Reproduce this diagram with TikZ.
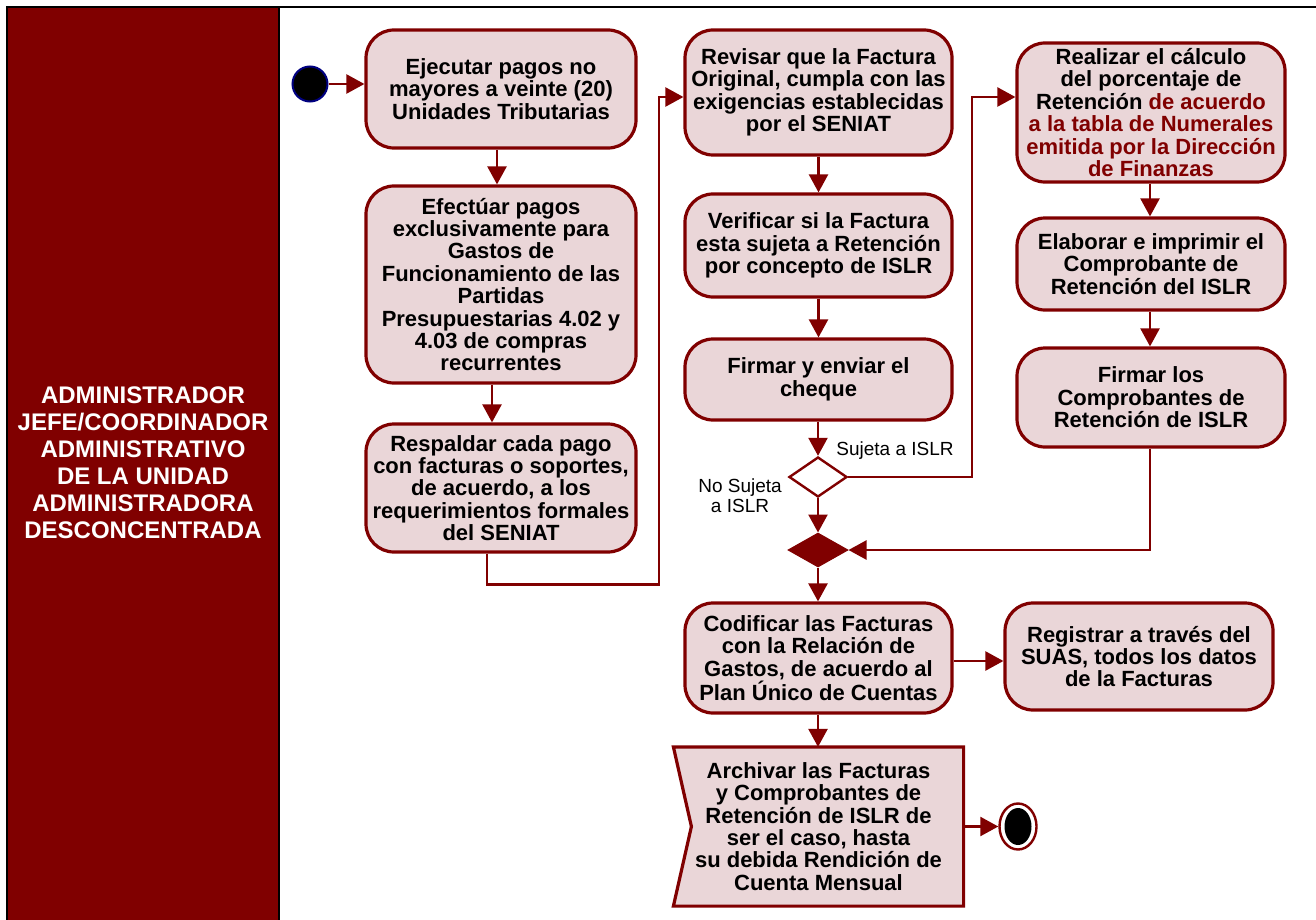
\documentclass[tikz,border=0pt]{standalone}
\usepackage{fontspec}
\setmainfont{Liberation Sans}
\usetikzlibrary{arrows.meta,shapes.geometric,calc}
\pgfdeclarelayer{bg}
\pgfsetlayers{bg,main}
\definecolor{dred}{RGB}{128,0,0}
\definecolor{bfill}{RGB}{234,214,216}
\definecolor{navyb}{RGB}{0,0,128}
\tikzset{
  act/.style={draw=dred, line width=3.2pt, fill=bfill, rounded corners=28pt,
    align=center, inner sep=0pt, font=\fontsize{22}{22.4}\selectfont\bfseries},
  conn/.style={draw=dred, line width=2.4pt, -{Triangle[length=18pt,width=19pt]}},
  lbl/.style={font=\fontsize{19}{20}\selectfont, align=center, inner sep=0pt},
  lanetext/.style={font=\fontsize{24}{27}\selectfont\bfseries, text=white, align=center},
}
\begin{document}
\begin{tikzpicture}[x=1pt,y=-1pt]
\useasboundingbox (0,0) rectangle (1316,920);
% frame
\draw[black, line width=2pt] (7,7) -- (1316,7);
\fill[dred] (7,7) rectangle (279,920);
\draw[black, line width=2pt] (7,920) -- (7,7) -- (279,7) -- (279,920);
\node[lanetext] (lane) at (143,463)
  {ADMINISTRADOR\\JEFE/COORDINADOR\\ADMINISTRATIVO\\DE LA UNIDAD\\ADMINISTRADORA\\DESCONCENTRADA};

% start
\node[circle, fill=black, draw=navyb, line width=2pt, minimum size=35pt, inner sep=0pt] (start) at (310,84) {};

% left column
\node[act, minimum width=270pt, minimum height=118pt] (b1) at (501,89)
  {Ejecutar pagos no\\mayores a veinte (20)\\Unidades Tributarias};
\node[act, minimum width=270pt, minimum height=197pt] (b2) at (501,284.5)
  {Efectúar pagos\\exclusivamente para\\Gastos de\\Funcionamiento de las\\Partidas\\Presupuestarias 4.02 y\\4.03 de compras\\recurrentes};
\node[act, minimum width=270pt, minimum height=128pt] (b3) at (501,488)
  {Respaldar cada pago\\con facturas o soportes,\\de acuerdo, a los\\requerimientos formales\\del SENIAT};

% middle column
\node[act, minimum width=267pt, minimum height=125pt] (b4) at (818.5,92.5)
  {Revisar que la Factura\\Original, cumpla con las\\exigencias establecidas\\por el SENIAT};
\node[act, minimum width=267pt, minimum height=103pt] (b5) at (818.5,245.5)
  {Verificar si la Factura\\esta sujeta a Retención\\por concepto de ISLR};
\node[act, minimum width=267pt, minimum height=81pt] (b6) at (818.5,379.5)
  {Firmar y enviar el\\cheque};
\node[diamond, draw=dred, fill=white, line width=2.4pt, minimum width=58pt, minimum height=40pt, inner sep=0pt] (dec) at (818,477) {};
\node[diamond, draw=dred, fill=dred, line width=1pt, minimum width=60pt, minimum height=34pt, inner sep=0pt] (mrg) at (818,550) {};
\node[act, minimum width=267pt, minimum height=110pt] (b7) at (818.5,658)
  {Codificar las Facturas\\con la Relación de\\Gastos, de acuerdo al\\Plan Único de Cuentas};
\node[act, minimum width=268pt, minimum height=107pt] (b8) at (1139,656.5)
  {Registrar a través del\\SUAS, todos los datos\\de la Facturas};
\node[act, draw=none, fill=none, minimum width=287pt, minimum height=156pt] (b9) at (818.5,826.5)
  {Archivar las Facturas\\y Comprobantes de\\Retención de ISLR de\\ser el caso, hasta\\su debida Rendición de\\Cuenta Mensual};
\begin{pgfonlayer}{bg}
\draw[draw=dred, line width=3.2pt, fill=bfill, line join=miter]
  (b9.north west) -- (b9.north east) -- (b9.south east) -- (b9.south west)
  -- ([xshift=18pt]b9.west) -- cycle;
\end{pgfonlayer}

% end
\node[ellipse, draw=dred, fill=white, line width=2.4pt, minimum width=37pt, minimum height=46pt, inner sep=0pt] (endo) at (1018,826.5) {};
\node[ellipse, fill=black, minimum width=27pt, minimum height=37pt, inner sep=0pt] (endi) at (1018,826.5) {};

% right column
\node[act, minimum width=268pt, minimum height=139pt] (r1) at (1151,112.5)
  {Realizar el cálculo\\del porcentaje de\\Retención {\color{dred}de acuerdo}\\{\color{dred}a la tabla de Numerales}\\{\color{dred}emitida por la Dirección}\\{\color{dred}de Finanzas}};
\node[act, minimum width=268pt, minimum height=92pt] (r2) at (1151,264)
  {Elaborar e imprimir el\\Comprobante de\\Retención del ISLR};
\node[act, minimum width=268pt, minimum height=99pt] (r3) at (1151,397.5)
  {Firmar los\\Comprobantes de\\Retención de ISLR};

% connectors
\draw[conn] (start) -- (b1.west |- start);
\draw[conn] ([xshift=-4pt]b1.south) -- ([xshift=-4pt]b1.south |- b2.north);
\draw[conn] ([xshift=-9pt]b2.south) -- ([xshift=-9pt]b2.south |- b3.north);
\coordinate (c1) at ([xshift=-14pt]b3.south);
\draw[conn] (c1) -- ++(0,31) -| (659,97) -- (b4.west |- 0,97);
\draw[conn] (b4) -- (b5);
\draw[conn] (b5) -- (b6);
\draw[conn] (b6.south -| dec) -- (dec.north);
\draw[conn] (dec.east) -| (972,97) -- (r1.west |- 0,97);
\draw[conn] (dec.south) -- (mrg.north);
\draw[conn] (r1.south -| 1150,0) -- (r2.north -| 1150,0);
\draw[conn] (r2.south -| 1150,0) -- (r3.north -| 1150,0);
\draw[conn] (r3.south -| 1150,0) |- (mrg.east);
\draw[conn] (mrg.south) -- (b7.north -| mrg);
\draw[conn] (b7.east |- 0,661) -- (b8.west |- 0,661);
\draw[conn] (b7.south -| mrg) -- (b9.north -| mrg);
\draw[conn] (b9.east) -- (endo.west);

% labels
\node[lbl] (ls) at (895,451) {Sujeta a ISLR};
\node[lbl] (ln) at (740,496) {No Sujeta\\a ISLR};
\end{tikzpicture}
\end{document}
